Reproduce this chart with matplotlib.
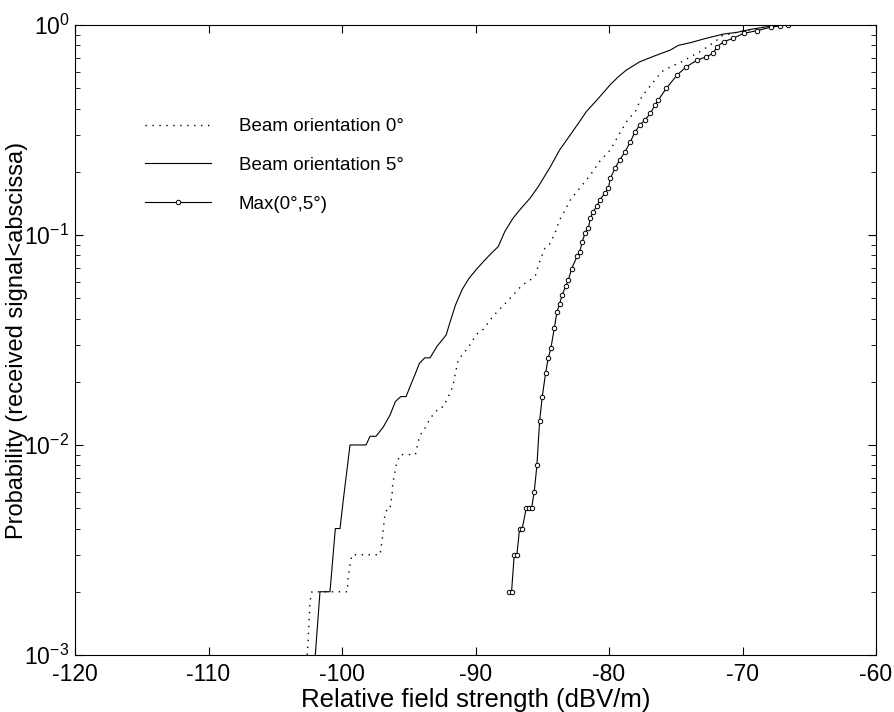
import matplotlib
matplotlib.use("Agg")
import matplotlib.pyplot as plt
from matplotlib.ticker import LogLocator, LogFormatterMathtext, NullFormatter

# font similar to the Helvetica of the scan
plt.rcParams['font.family'] = ['Liberation Sans', 'DejaVu Sans']
plt.rcParams['mathtext.fontset'] = 'custom'
plt.rcParams['mathtext.rm'] = 'Liberation Sans'
plt.rcParams['mathtext.it'] = 'Liberation Sans:italic'
plt.rcParams['mathtext.bf'] = 'Liberation Sans:bold'

# 1. data (cumulative probability vs field strength)
beam0_x = [-102.6, -102.5, -102.4, -102.25, -99.6, -99.55, -99.4, -99.25, -97.15, -97.0,
           -96.9, -96.8, -96.6, -96.4, -96.25, -96.2, -96.0, -95.95, -95.65, -94.5,
           -94.3, -94.2, -93.8, -93.5, -93.1, -92.7, -92.4, -92.0, -91.7, -91.5,
           -91.3, -90.9, -90.5, -90.2, -89.8, -89.4, -89.0, -88.7, -88.0, -87.3,
           -86.5, -85.9, -85.5, -85.2, -84.8, -84.4, -84.0, -83.7, -83.3, -82.9,
           -82.2, -81.4, -80.7, -79.9, -79.2, -78.6, -78.0, -77.55, -77.05, -76.55,
           -76.05, -75.6, -75.1, -74.4, -73.9, -73.2, -72.6, -71.9, -71.6, -70.2,
           -68.2, -66.7]
beam0_p = [0.001, 0.0013, 0.0018, 0.002, 0.002, 0.0023, 0.0027, 0.003, 0.003, 0.0035,
           0.004, 0.0046, 0.005, 0.005, 0.0058, 0.0066, 0.0076, 0.008, 0.009, 0.009,
           0.0103, 0.011, 0.012, 0.013, 0.0142, 0.015, 0.0152, 0.0172, 0.019, 0.022,
           0.0254, 0.0273, 0.0294, 0.0316, 0.0343, 0.0356, 0.0386, 0.041, 0.0456, 0.0508,
           0.0578, 0.061, 0.0645, 0.0746, 0.0865, 0.0912, 0.104, 0.118, 0.131, 0.147,
           0.167, 0.193, 0.224, 0.254, 0.305, 0.353, 0.39, 0.456, 0.50, 0.547,
           0.60, 0.622, 0.645, 0.674, 0.706, 0.746, 0.789, 0.849, 0.887, 0.93,
           0.98, 1.0]

beam5_x = [-102.0, -101.65, -100.9, -100.5, -100.15, -99.9, -99.4, -98.2, -97.9, -97.45,
           -96.9, -96.4, -96.0, -95.6, -95.2, -94.9, -94.5, -94.2, -93.8, -93.4,
           -92.9, -92.2, -91.9, -91.5, -91.0, -90.5, -89.9, -89.3, -88.8, -88.3,
           -87.8, -87.2, -86.5, -85.9, -85.3, -84.4, -83.7, -82.9, -82.2, -81.7,
           -80.9, -79.9, -79.3, -78.7, -77.7, -76.4, -75.4, -74.8, -73.9, -72.7,
           -71.4, -70.4, -69.4, -68.2, -66.7]
beam5_p = [0.001, 0.002, 0.002, 0.004, 0.004, 0.0055, 0.010, 0.010, 0.011, 0.011,
           0.0122, 0.0139, 0.0161, 0.017, 0.017, 0.019, 0.0219, 0.0245, 0.026, 0.026,
           0.0294, 0.0334, 0.0386, 0.0464, 0.055, 0.062, 0.069, 0.076, 0.082, 0.088,
           0.104, 0.12, 0.136, 0.15, 0.17, 0.211, 0.254, 0.30, 0.347, 0.387,
           0.44, 0.52, 0.567, 0.61, 0.668, 0.72, 0.76, 0.80, 0.824, 0.865,
           0.906, 0.923, 0.953, 0.98, 1.0]

max_x = [-87.5, -87.3, -87.1, -86.9, -86.7, -86.5, -86.2, -86.0, -85.8, -85.6,
         -85.4, -85.2, -85.0, -84.75, -84.55, -84.35, -84.1, -83.9, -83.7, -83.5,
         -83.25, -83.05, -82.8, -82.4, -82.2, -82.0, -81.8, -81.55, -81.4, -81.2,
         -80.9, -80.7, -80.3, -80.05, -79.9, -79.55, -79.2, -78.8, -78.4, -78.05,
         -77.7, -77.3, -76.9, -76.55, -76.3, -75.7, -74.9, -74.2, -73.4, -72.7,
         -72.2, -71.9, -71.4, -70.7, -69.9, -68.9, -67.9, -67.2, -66.6]
max_p = [0.002, 0.002, 0.003, 0.003, 0.004, 0.004, 0.005, 0.005, 0.005, 0.006,
         0.008, 0.013, 0.017, 0.022, 0.026, 0.029, 0.036, 0.043, 0.047, 0.052,
         0.057, 0.061, 0.069, 0.079, 0.083, 0.093, 0.102, 0.108, 0.12, 0.129,
         0.137, 0.147, 0.158, 0.167, 0.186, 0.208, 0.228, 0.249, 0.278, 0.31,
         0.334, 0.353, 0.38, 0.416, 0.44, 0.50, 0.578, 0.633, 0.68, 0.706,
         0.733, 0.789, 0.833, 0.864, 0.913, 0.94, 0.975, 0.99, 1.0]

labels = ["Beam orientation 0°", "Beam orientation 5°", "Max(0°,5°)"]
x_ticks = [-120, -110, -100, -90, -80, -70, -60]

# 2. figure
fig = plt.figure(figsize=(8.95, 7.12), dpi=100)
ax = fig.add_axes([0.0838, 0.0801, 0.8950, 0.8848])

ax.plot(beam0_x, beam0_p, color='black', lw=1.0, linestyle=(0, (1, 4)), label=labels[0])
ax.plot(beam5_x, beam5_p, color='black', lw=0.8, label=labels[1])
ax.plot(max_x, max_p, color='black', lw=0.8, marker='o', markersize=3.2,
        markerfacecolor='white', markeredgecolor='black', markeredgewidth=0.7,
        label=labels[2])

ax.set_yscale('log')
ax.set_xlim(-120, -60)
ax.set_ylim(1e-3, 1)
ax.set_xticks(x_ticks)
ax.set_xticklabels([str(t) for t in x_ticks])
ax.yaxis.set_major_locator(LogLocator(base=10))
ax.yaxis.set_minor_locator(LogLocator(base=10, subs=range(2, 10)))
ax.yaxis.set_major_formatter(LogFormatterMathtext())
ax.yaxis.set_minor_formatter(NullFormatter())

ax.tick_params(which='both', direction='in', top=True, right=True, labelsize=16.5)
ax.tick_params(axis='x', which='major', pad=6)
ax.tick_params(axis='y', which='major', pad=4)
ax.tick_params(which='major', length=6, width=0.8)
ax.tick_params(which='minor', length=3.5, width=0.6)
for s in ax.spines.values():
    s.set_linewidth(0.8)

ax.set_xlabel("Relative field strength (dBV/m)", fontsize=18.5, labelpad=1)
ax.set_ylabel("Probability (received signal<abscissa)", fontsize=17)
ax.yaxis.set_label_coords(-0.059, 0.5)

leg = ax.legend(loc='upper left', bbox_to_anchor=(0.078, 0.864), frameon=False,
                fontsize=13.5, handlelength=3.5, handletextpad=1.5, labelspacing=1.15,
                borderaxespad=0)

# ✅ save
plt.savefig("out.png", dpi=100)
plt.close()
